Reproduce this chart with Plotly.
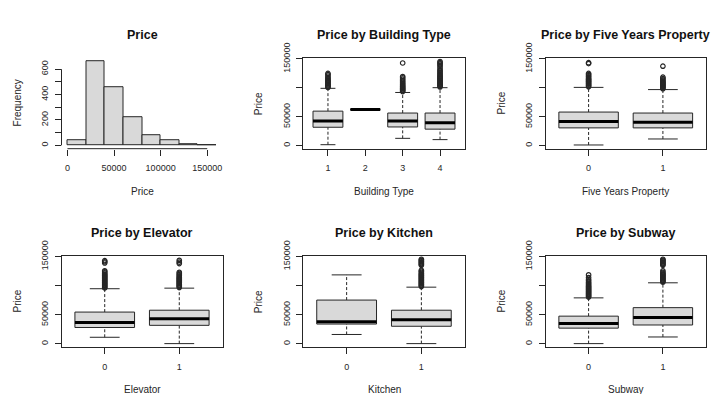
import plotly.graph_objects as go

# ---------------- data ----------------
# Histogram of Price (bin edges and counts per bin)
hist_edges = [0, 20000, 40000, 60000, 80000, 100000, 120000, 140000, 160000]
hist_counts = [40, 660, 460, 218, 78, 42, 5, 2]
hist_xticks = [0, 50000, 100000, 150000]
hist_xtext = ["0", "50000", "100000", "150000"]
hist_yticks = [0, 100, 200, 300, 400, 500, 600]
hist_ytext = ["0", "", "200", "", "400", "", "600"]

# Price axis shared by the box plots
price_ticks = [0, 50000, 100000, 150000]
price_ticktext = ["0", "50000", "", "150000"]

# Price by Building Type
bt_groups = ["1", "2", "3", "4"]
bt_low = [1600, 62500, 12600, 10400]
bt_q1 = [31800, 62500, 32300, 28500]
bt_med = [42700, 62500, 42700, 39500]
bt_q3 = [59700, 62500, 56400, 56400]
bt_high = [99200, 62500, 92000, 100300]
bt_out = [
    [100800, 102000, 103500, 105000, 106500, 108000, 109500, 111000, 112500,
     114000, 116000, 118000, 120500, 123000, 125000],
    [],
    [93500, 95000, 96500, 98000, 99500, 101000, 102500, 104000, 106000,
     108000, 110000, 112500, 115000, 117500, 119500, 143000],
    [101500, 103000, 104500, 106000, 107500, 109000, 110500, 112000, 113500,
     115000, 116500, 118000, 119500, 121000, 123000, 125000, 127000, 129000,
     131000, 134000, 137000, 139500, 141500, 143500, 145500],
]

# Price by Five Years Property
fy_groups = ["0", "1"]
fy_low = [1100, 11500]
fy_q1 = [30700, 30700]
fy_med = [41600, 40600]
fy_q3 = [58100, 56400]
fy_high = [100800, 97000]
fy_out = [
    [102000, 103500, 105000, 106500, 108000, 109500, 111000, 112500, 114000,
     115500, 117000, 119000, 121000, 123000, 125000, 142000, 143500],
    [98500, 100000, 101500, 103000, 104500, 106000, 107500, 109000, 110500,
     112000, 114000, 116000, 118400, 137500],
]

# Price by Elevator
el_groups = ["0", "1"]
el_low = [11400, 500]
el_q1 = [28200, 31900]
el_med = [36800, 43300]
el_q3 = [54700, 57900]
el_high = [94800, 95800]
el_out = [
    [96000, 97500, 99000, 100500, 102000, 103500, 105000, 106500, 108000,
     109500, 111000, 112500, 114000, 115500, 117000, 118500, 120000, 122000,
     124000, 125600, 139000, 141000, 143000],
    [97000, 98500, 100000, 101500, 103000, 104500, 106000, 107500, 109000,
     110500, 112000, 113500, 115000, 117000, 119000, 121000, 123000, 138000,
     140500, 143500],
]

# Price by Kitchen
ki_groups = ["0", "1"]
ki_low = [16200, 500]
ki_q1 = [34100, 30300]
ki_med = [37900, 41700]
ki_q3 = [75300, 57900]
ki_high = [118600, 97500]
ki_out = [
    [],
    [98500, 100000, 101500, 103000, 104500, 106000, 107500, 109000, 110500,
     112000, 113500, 115000, 116500, 118000, 119500, 121000, 123000, 125000,
     126700, 135000, 136500, 138000, 139500, 141000, 142500, 144000, 145500],
]

# Price by Subway
su_groups = ["0", "1"]
su_low = [500, 11900]
su_q1 = [27100, 32500]
su_med = [35200, 45500]
su_q3 = [47700, 62300]
su_high = [79100, 105000]
su_out = [
    [80500, 82000, 83500, 85000, 86500, 88000, 89500, 91000, 92500, 94000,
     95500, 97000, 98500, 100000, 102000, 104000, 106000, 108500, 110500,
     114000, 118600],
    [106000, 107500, 109000, 110500, 112000, 113500, 115000, 116500, 118000,
     119500, 121000, 123000, 125600, 135000, 136500, 138000, 139500, 141000,
     142500, 144000, 145500],
]

# ---------------- layout geometry (paper fractions) ----------------
W, H = 715, 394
col_px = [(61.5, 222.5), (303.3, 464.7), (545.5, 706.0)]
row_px = [(44.0, 138.3), (250.0, 345.0)]
title_y_px = [20.0, 226.3]
xlab_y_px = [182.7, 389.3]

FONT = "Liberation Sans, Arial, Helvetica, sans-serif"
INK = "#262626"
FILL = "#d9d9d9"
BOX_HALF = 0.4
STAPLE_HALF = 0.2


def xdom(c):
    return [col_px[c][0] / W, col_px[c][1] / W]


def ydom(r):
    return [1 - row_px[r][1] / H, 1 - row_px[r][0] / H]


fig = go.Figure()
annotations = []
shapes = []
layout_axes = {}

all_prices = []
for lo_list, out_list in [(bt_low, bt_out), (fy_low, fy_out), (el_low, el_out),
                          (ki_low, ki_out), (su_low, su_out)]:
    all_prices += lo_list
    for o in out_list:
        all_prices += o
pmin, pmax = min(all_prices), max(all_prices)
ppad = 0.04 * (pmax - pmin)
price_range = [pmin - ppad, pmax + ppad]


def axis_name(k):
    return ("xaxis", "yaxis") if k == 1 else (f"xaxis{k}", f"yaxis{k}")


def ref_name(k):
    return ("x", "y") if k == 1 else (f"x{k}", f"y{k}")


def add_labels(r, c, title, xlab, ylab):
    xc = (col_px[c][0] + col_px[c][1]) / 2 / W
    annotations.append(dict(text=f"<b>{title}</b>", x=xc, y=1 - title_y_px[r] / H,
                            xref="paper", yref="paper", showarrow=False,
                            xanchor="center", yanchor="middle",
                            font=dict(family=FONT, size=12.5, color="#111")))
    annotations.append(dict(text=xlab, x=xc, y=1 - xlab_y_px[r] / H,
                            xref="paper", yref="paper", showarrow=False,
                            xanchor="center", yanchor="middle",
                            font=dict(family=FONT, size=10, color=INK)))
    yc = 1 - (row_px[r][0] + row_px[r][1]) / 2 / H
    annotations.append(dict(text=ylab, x=(col_px[c][0] - 44.5) / W, y=yc,
                            xref="paper", yref="paper", showarrow=False,
                            textangle=-90, xanchor="center", yanchor="middle",
                            font=dict(family=FONT, size=10, color=INK)))


tick_font = dict(family=FONT, size=9, color=INK)

# ---------------- histogram panel ----------------
k = 1
xa, ya = axis_name(k)
xr, yr = ref_name(k)
mids = [(a + b) / 2 for a, b in zip(hist_edges[:-1], hist_edges[1:])]
widths = [b - a for a, b in zip(hist_edges[:-1], hist_edges[1:])]
fig.add_trace(go.Bar(x=mids, y=hist_counts, width=widths, xaxis=xr, yaxis=yr,
                     marker=dict(color=FILL, line=dict(color=INK, width=1)),
                     showlegend=False, hoverinfo="skip"))
span = hist_edges[-1] - hist_edges[0]
M = max(hist_counts)
layout_axes[xa] = dict(domain=xdom(0), anchor=yr,
                       range=[hist_edges[0] - 0.04 * span, hist_edges[-1] + 0.04 * span],
                       tickvals=hist_xticks, ticktext=hist_xtext, ticks="outside",
                       ticklen=6, tickcolor=INK, showline=False, showgrid=False,
                       zeroline=False, tickfont=tick_font, ticklabelstandoff=5)
layout_axes[ya] = dict(domain=ydom(0), anchor=xr, range=[-0.04 * M, 1.04 * M],
                       tickvals=hist_yticks, ticktext=hist_ytext, ticks="outside",
                       ticklen=6, tickcolor=INK, showline=False, showgrid=False,
                       zeroline=False, tickfont=tick_font, tickangle=-90,
                       ticklabelstandoff=3)
# axis lines spanning only the tick range
shapes.append(dict(type="line", xref=xr, yref=f"{yr} domain",
                   x0=min(hist_xticks), x1=max(hist_xticks), y0=0, y1=0,
                   line=dict(color=INK, width=1)))
shapes.append(dict(type="line", xref=f"{xr} domain", yref=yr,
                   x0=0, x1=0, y0=min(hist_yticks), y1=max(hist_yticks),
                   line=dict(color=INK, width=1)))
add_labels(0, 0, "Price", "Price", "Frequency")

# ---------------- box plot panels ----------------
panels = [
    (0, 1, "Price by Building Type", "Building Type",
     bt_groups, bt_low, bt_q1, bt_med, bt_q3, bt_high, bt_out),
    (0, 2, "Price by Five Years Property", "Five Years Property",
     fy_groups, fy_low, fy_q1, fy_med, fy_q3, fy_high, fy_out),
    (1, 0, "Price by Elevator", "Elevator",
     el_groups, el_low, el_q1, el_med, el_q3, el_high, el_out),
    (1, 1, "Price by Kitchen", "Kitchen",
     ki_groups, ki_low, ki_q1, ki_med, ki_q3, ki_high, ki_out),
    (1, 2, "Price by Subway", "Subway",
     su_groups, su_low, su_q1, su_med, su_q3, su_high, su_out),
]

for idx, (r, c, title, xlab, groups, low, q1, med, q3, high, outs) in enumerate(panels):
    k = idx + 2
    xa, ya = axis_name(k)
    xr, yr = ref_name(k)
    n = len(groups)
    pos = list(range(1, n + 1))
    common = dict(xaxis=xr, yaxis=yr, showlegend=False, hoverinfo="skip")
    for i, p in enumerate(pos):
        # dashed whiskers
        fig.add_trace(go.Scatter(x=[p, p, None, p, p],
                                 y=[low[i], q1[i], None, q3[i], high[i]],
                                 mode="lines",
                                 line=dict(color=INK, width=1, dash="3px,2px"),
                                 **common))
        # staples
        fig.add_trace(go.Scatter(x=[p - STAPLE_HALF, p + STAPLE_HALF, None,
                                    p - STAPLE_HALF, p + STAPLE_HALF],
                                 y=[low[i], low[i], None, high[i], high[i]],
                                 mode="lines", line=dict(color=INK, width=1),
                                 **common))
        # box
        fig.add_trace(go.Scatter(x=[p - BOX_HALF, p + BOX_HALF, p + BOX_HALF,
                                    p - BOX_HALF, p - BOX_HALF],
                                 y=[q1[i], q1[i], q3[i], q3[i], q1[i]],
                                 mode="lines", fill="toself", fillcolor=FILL,
                                 line=dict(color=INK, width=1), **common))
        # median
        fig.add_trace(go.Scatter(x=[p - BOX_HALF, p + BOX_HALF], y=[med[i], med[i]],
                                 mode="lines", line=dict(color="#000", width=3),
                                 **common))
        # outliers
        if outs[i]:
            fig.add_trace(go.Scatter(x=[p] * len(outs[i]), y=outs[i], mode="markers",
                                     marker=dict(symbol="circle-open", size=4.5,
                                                 color=INK, line=dict(width=1.2)),
                                     **common))
    layout_axes[xa] = dict(domain=xdom(c), anchor=yr,
                           range=[0.5 - 0.04 * n, n + 0.5 + 0.04 * n],
                           tickvals=pos, ticktext=groups, ticks="outside",
                           ticklen=6, tickcolor=INK, showline=True, mirror=True,
                           linecolor=INK, linewidth=1, showgrid=False,
                           zeroline=False, tickfont=tick_font, ticklabelstandoff=5)
    layout_axes[ya] = dict(domain=ydom(r), anchor=xr, range=price_range,
                           tickvals=price_ticks, ticktext=price_ticktext,
                           ticks="outside", ticklen=6, tickcolor=INK,
                           showline=True, mirror=True, linecolor=INK, linewidth=1,
                           showgrid=False, zeroline=False, tickfont=tick_font,
                           tickangle=-90, ticklabelstandoff=3)
    add_labels(r, c, title, xlab, "Price")

fig.update_layout(width=W, height=H, margin=dict(l=0, r=0, t=0, b=0),
                  paper_bgcolor="white", plot_bgcolor="white",
                  annotations=annotations, shapes=shapes, bargap=0,
                  font=dict(family=FONT), **layout_axes)

fig.write_html("out.html")
